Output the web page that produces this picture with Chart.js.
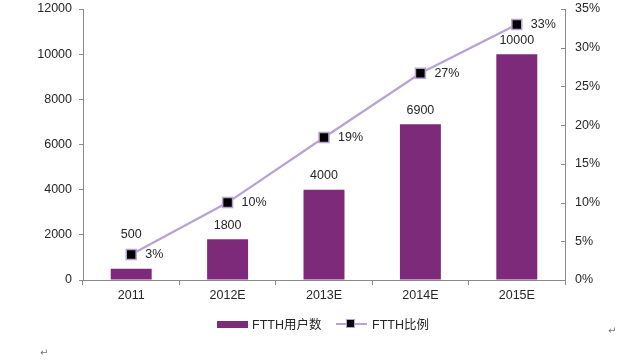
<!DOCTYPE html>
<html><head><meta charset="utf-8">
<script src="https://cdn.jsdelivr.net/npm/chart.js@4/dist/chart.umd.min.js"></script>
<style>
html,body{margin:0;padding:0;background:#fff;}
#wrap{position:relative;width:640px;height:360px;font-family:"Liberation Sans","Noto Sans CJK SC",sans-serif;color:#262626;}
canvas{position:absolute;left:0;top:0;}
.lg{position:absolute;font-size:12.5px;line-height:14px;white-space:nowrap;}
.mark{position:absolute;font-size:10px;color:#777;font-family:"DejaVu Sans",sans-serif;}
</style></head>
<body>
<div id="wrap">
<canvas id="c" width="640" height="360"></canvas>
<div id="legend"></div>
<span class="mark" style="left:608px;top:325px">↵</span>
<span class="mark" style="left:40px;top:347px">↵</span>
</div>
<script>
const categories = ['2011', '2012E', '2013E', '2014E', '2015E'];
const users = [500, 1800, 4000, 6900, 10000];
const ratio = [0.033, 0.10, 0.184, 0.267, 0.33];
const ratioLabels = ['3%', '10%', '19%', '27%', '33%'];
const seriesNames = ['FTTH用户数', 'FTTH比例'];

const BAR = '#7E2A7B';
const LINE = '#B9A1D4';
const AXIS = '#8A8A8A';
const TXT = '#262626';
const FONT = {family: '"Liberation Sans","Noto Sans CJK SC",sans-serif', size: 12.5};

const labelPlugin = {
  id: 'labels',
  afterDatasetsDraw(chart) {
    const ctx = chart.ctx;
    const barMeta = chart.getDatasetMeta(0);
    const lineMeta = chart.getDatasetMeta(1);
    ctx.save();
    ctx.font = FONT.size + 'px ' + FONT.family;
    ctx.fillStyle = TXT;
    ctx.textBaseline = 'middle';
    ctx.textAlign = 'left';
    lineMeta.data.forEach((pt, i) => {
      ctx.fillText(ratioLabels[i], pt.x + 14, pt.y);
    });
    ctx.textAlign = 'center';
    barMeta.data.forEach((bar, i) => {
      let y = bar.y - 14;
      const pt = lineMeta.data[i];
      if (Math.abs(pt.y - y) < 14) y = pt.y - 20;
      ctx.fillText(String(users[i]), bar.x, y);
    });
    const y1 = chart.scales.y1;
    ctx.strokeStyle = AXIS;
    ctx.lineWidth = 1;
    y1.ticks.forEach((t, i) => {
      const py = Math.round(y1.getPixelForTick(i)) + 0.5;
      ctx.beginPath();
      ctx.moveTo(y1.left - 4, py);
      ctx.lineTo(y1.left, py);
      ctx.stroke();
    });
    ctx.restore();
  }
};

new Chart(document.getElementById('c'), {
  data: {
    labels: categories,
    datasets: [
      {type: 'bar', label: seriesNames[0], data: users, backgroundColor: BAR, yAxisID: 'y',
       categoryPercentage: 1, barPercentage: 0.425, order: 2},
      {type: 'line', label: seriesNames[1], data: ratio, borderColor: LINE, borderWidth: 2.2,
       pointStyle: 'rect', pointRadius: 7, pointHoverRadius: 7, pointBackgroundColor: '#000',
       pointBorderColor: LINE, pointBorderWidth: 1.5, yAxisID: 'y1', order: 1, tension: 0}
    ]
  },
  options: {
    responsive: false,
    animation: false,
    devicePixelRatio: 1,
    layout: {padding: {left: 0, right: 0, top: 9, bottom: 0}},
    plugins: {legend: {display: false}, tooltip: {enabled: false}},
    scales: {
      x: {
        grid: {drawOnChartArea: false, tickLength: 5, color: AXIS, offset: true},
        border: {color: AXIS, width: 1},
        ticks: {color: TXT, font: FONT, padding: 3, maxRotation: 0},
        afterFit(s) { s.height = 80; s.paddingLeft = 0; s.paddingRight = 0; }
      },
      y: {
        position: 'left', min: 0, max: 12000,
        grid: {drawOnChartArea: false, tickLength: 4, color: AXIS},
        border: {color: AXIS, width: 1},
        ticks: {stepSize: 2000, color: TXT, font: FONT, padding: 7, callback: v => String(v)},
        afterFit(s) { s.width = 83; s.paddingTop = 0; s.paddingBottom = 0; }
      },
      y1: {
        position: 'right', min: 0, max: 0.35,
        grid: {drawOnChartArea: false, drawTicks: false},
        border: {color: AXIS, width: 1},
        ticks: {stepSize: 0.05, color: TXT, font: FONT, padding: 10,
          callback: v => Math.round(v * 100) + '%'},
        afterFit(s) { s.width = 75; s.paddingTop = 0; s.paddingBottom = 0; }
      }
    }
  },
  plugins: [labelPlugin]
});

const lg = document.getElementById('legend');
lg.innerHTML =
  '<div style="position:absolute;left:217px;top:321px;width:31px;height:7px;background:' + BAR + '"></div>' +
  '<span class="lg" style="left:252px;top:318px">' + seriesNames[0] + '</span>' +
  '<div style="position:absolute;left:336px;top:323px;width:31px;height:2px;background:' + LINE + '"></div>' +
  '<div style="position:absolute;left:346px;top:319px;width:7px;height:7px;background:#000;border:1.5px solid ' + LINE + '"></div>' +
  '<span class="lg" style="left:372px;top:318px">' + seriesNames[1] + '</span>';
</script>
</body></html>
